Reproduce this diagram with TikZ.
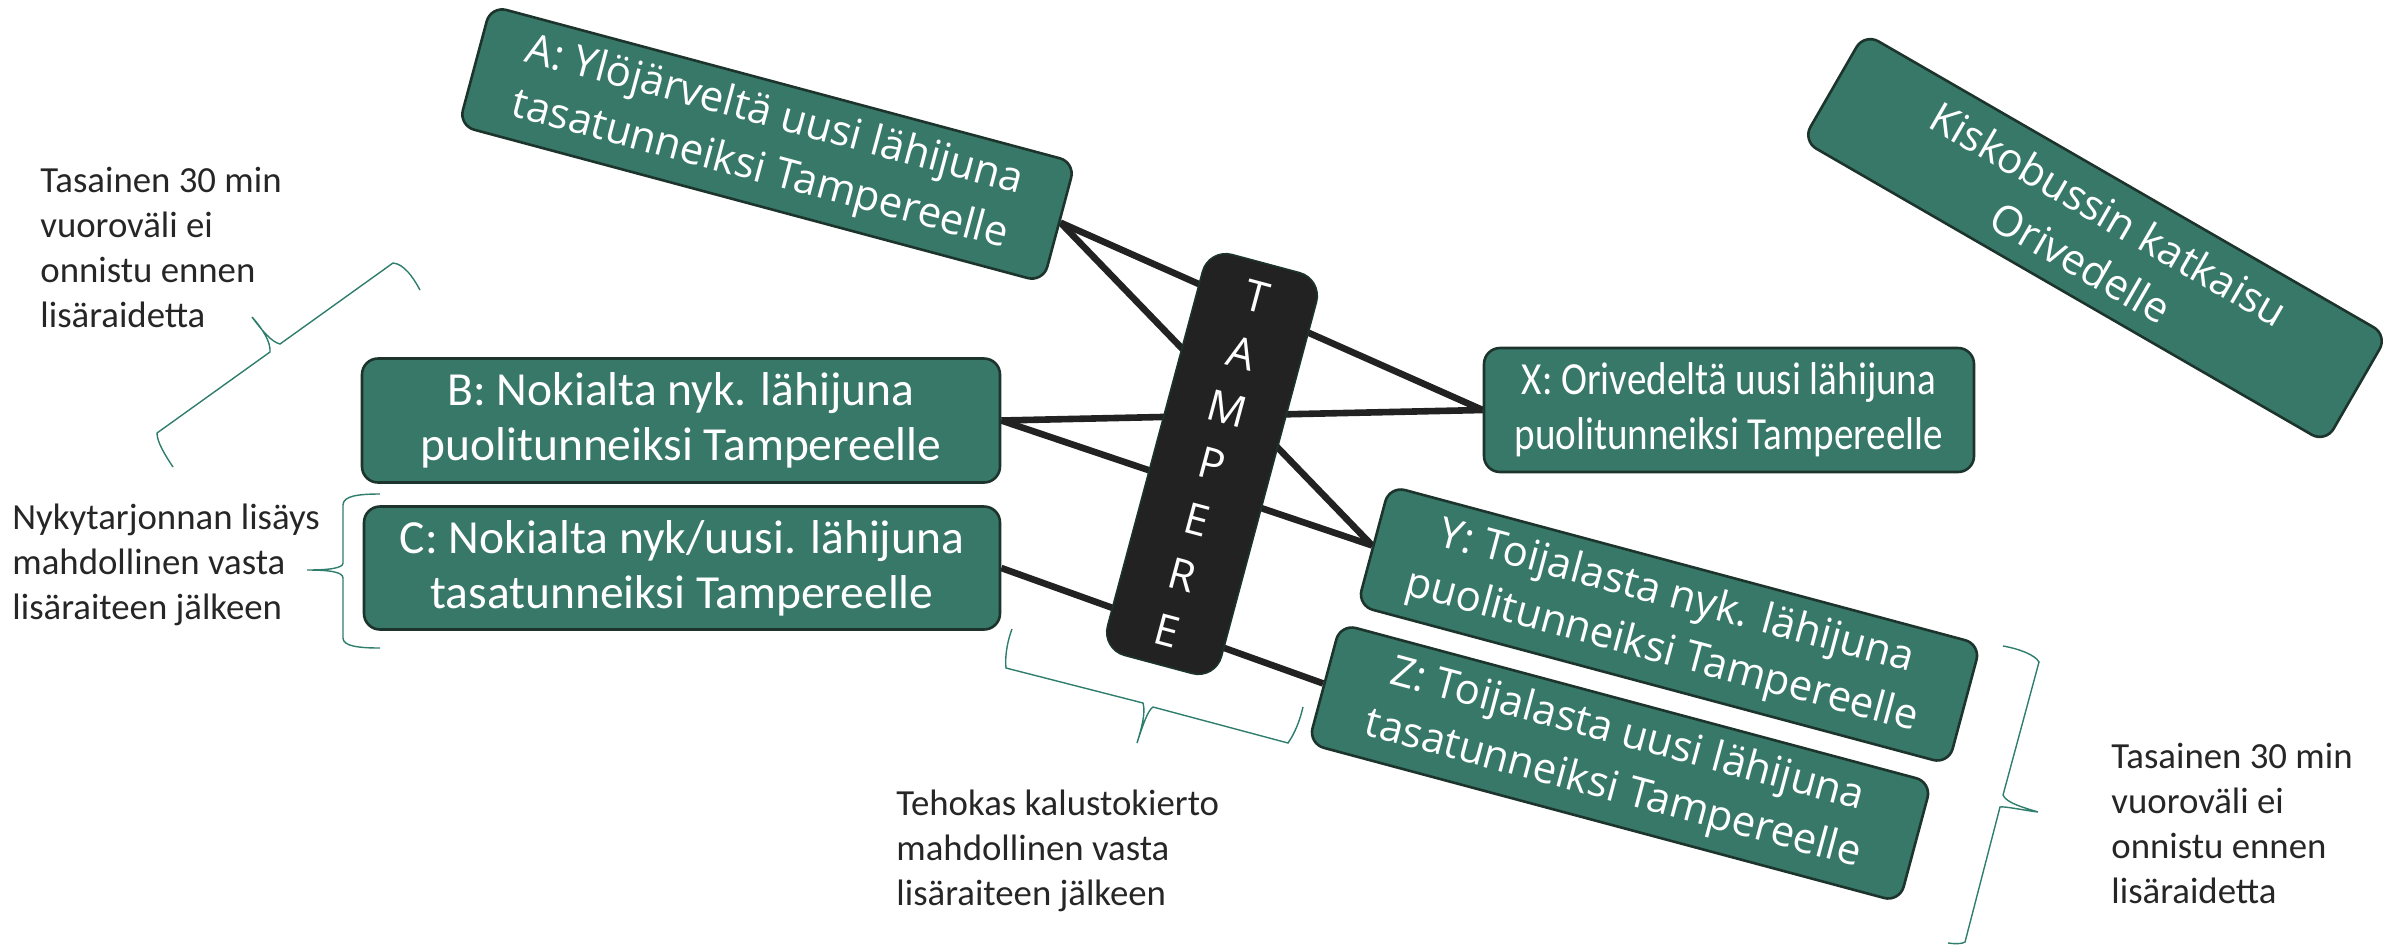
\documentclass[tikz,border=0pt]{standalone}
\usepackage{fontspec}
\setmainfont{Carlito}
\newfontfamily\osans{Open Sans}
\newfontfamily\carlnarrow[FakeStretch=0.85]{Carlito}
\usetikzlibrary{backgrounds}
\definecolor{boxgreen}{RGB}{55,120,105}
\definecolor{boxedge}{RGB}{28,52,44}
\definecolor{hubfill}{RGB}{34,34,34}
\definecolor{linkc}{RGB}{34,34,34}
\definecolor{bracec}{RGB}{47,125,108}
\definecolor{notec}{RGB}{38,38,38}
\begin{document}
\begin{tikzpicture}[x=0.5pt,y=-0.5pt,
 gbox/.style={draw=boxedge, line width=1.3pt, fill=boxgreen, rounded corners=8pt, text=white, align=center, inner sep=0pt},
 hbox/.style={gbox, font=\fontsize{23.75}{27.5}\selectfont},
 xbox/.style={gbox, font=\carlnarrow\fontsize{23}{27.5}\selectfont},
 rbox/.style={gbox, font=\osans\fontsize{21}{28}\selectfont},
 hubbox/.style={draw=boxedge, line width=0.8pt, fill=hubfill, rounded corners=12pt, text=white, align=center, inner sep=0pt, font=\osans\fontsize{21.5}{28.8}\selectfont},
 link/.style={draw=linkc, line width=3.3pt},
 bracel/.style={draw=bracec, line width=0.7pt},
 note/.style={text=notec, align=left, inner sep=0pt, font=\fontsize{18.4}{22.5}\selectfont}
]
\useasboundingbox (0,0) rectangle (2386,944);

% boxes
\node[rbox, minimum width=302.5pt, minimum height=62pt, rotate=-15] (A) at (767,144) {A: Ylöjärveltä uusi lähijuna\\tasatunneiksi Tampereelle};
\node[hbox, minimum width=319pt, minimum height=62pt] (B) at (681,420.5) {B: Nokialta nyk. lähijuna\\puolitunneiksi Tampereelle};
\node[hbox, minimum width=318pt, minimum height=61.5pt] (C) at (682,568) {C: Nokialta nyk/uusi. lähijuna\\tasatunneiksi Tampereelle};
\node[xbox, minimum width=245pt, minimum height=62pt] (X) at (1729,410) {X: Orivedeltä uusi lähijuna\\puolitunneiksi Tampereelle};
\node[rbox, minimum width=306pt, minimum height=62pt, rotate=-15] (Y) at (1669,625) {Y: Toijalasta nyk. lähijuna\\puolitunneiksi Tampereelle};
\node[rbox, minimum width=306pt, minimum height=62pt, rotate=-15] (Z) at (1620,763) {Z: Toijalasta uusi lähijuna\\tasatunneiksi Tampereelle};
\node[rbox, minimum width=302pt, minimum height=62pt, rotate=-30] (K) at (2095,238) {Kiskobussin katkaisu\\Orivedelle};
\node[hubbox, minimum width=59pt, minimum height=207.5pt, rotate=-15] (T) at (1212,464) {T\\A\\M\\P\\E\\R\\E};

% connectors behind
\begin{scope}[on background layer]
\draw[link] (A.east) -- (X.west);
\draw[link] (A.east) -- (Y.west);
\draw[link] (B.east) -- (X.west);
\draw[link] (B.east) -- (Y.west);
\draw[link] (C.east) -- (Z.west);
\end{scope}

% notes (anchored at the baseline of their last line)
\node[note, anchor=base west] (n1) at (40,327) {Tasainen 30 min\\vuoroväli ei\\onnistu ennen\\lisäraidetta};
\node[note, anchor=base west] (n2) at (12,619) {Nykytarjonnan lisäys\\mahdollinen vasta\\lisäraiteen jälkeen};
\node[note, anchor=base west] (n3) at (896,905) {Tehokas kalustokierto\\mahdollinen vasta\\lisäraiteen jälkeen};
\node[note, anchor=base west] (n4) at (2111,903) {Tasainen 30 min\\vuoroväli ei\\onnistu ennen\\lisäraidetta};

% braces
\draw[bracel] (173,467) .. controls (165,455) and (157,442) .. (157,433) -- (270,352) .. controls (271,342) and (262,328) .. (252,317) .. controls (263,332) and (272,342) .. (280,344) -- (393,263) .. controls (404,264) and (413,277) .. (420,290);
\draw[bracel] (380,494) .. controls (358,494) and (343,496) .. (343,505) -- (343,563) .. controls (343,568) and (330,570) .. (307,570) .. controls (330,570) and (343,572) .. (343,578) -- (343,638) .. controls (343,646) and (358,648) .. (380,648);
\draw[bracel] (1012,629) .. controls (1006,645) and (1005,660) .. (1006,668) -- (1143,703) .. controls (1146,713) and (1141,730) .. (1137,743) .. controls (1142,728) and (1147,711) .. (1153,707) -- (1288,743) .. controls (1295,733) and (1300,720) .. (1303,707);
\draw[bracel] (2003,646) .. controls (2020,649) and (2035,655) .. (2039,662) -- (2003,795) .. controls (2006,803) and (2025,808) .. (2038,812) .. controls (2022,810) and (2004,806) .. (2000,807) -- (1965,942) .. controls (1962,944) and (1955,944) .. (1948,943);
\end{tikzpicture}
\end{document}
